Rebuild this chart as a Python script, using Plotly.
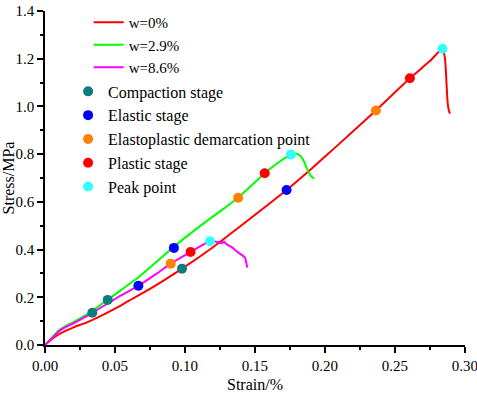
import plotly.graph_objects as go

# Stress-strain curves (strain in %, stress in MPa)
strain_w0 = [0, 0.005, 0.01, 0.015, 0.02, 0.03, 0.04, 0.05, 0.06, 0.075, 0.0979, 0.12, 0.14,
             0.1726, 0.19, 0.21, 0.2364, 0.2607, 0.275, 0.284, 0.2858, 0.2866, 0.2872, 0.2878,
             0.2885, 0.2893]
stress_w0 = [0, 0.025, 0.045, 0.06, 0.073, 0.095, 0.122, 0.152, 0.186, 0.235, 0.32, 0.41, 0.5,
             0.65, 0.737, 0.842, 0.983, 1.118, 1.19, 1.242, 1.20, 1.13, 1.06, 1.01, 0.985, 0.97]

strain_w29 = [0, 0.005, 0.01, 0.015, 0.02, 0.03, 0.0448, 0.055, 0.067, 0.08, 0.0921, 0.11,
              0.125, 0.138, 0.157, 0.168, 0.1757, 0.179, 0.182, 0.185, 0.1875, 0.19, 0.1924]
stress_w29 = [0, 0.032, 0.062, 0.08, 0.095, 0.128, 0.19, 0.233, 0.285, 0.35, 0.412, 0.495,
              0.56, 0.617, 0.72, 0.77, 0.798, 0.803, 0.795, 0.77, 0.735, 0.708, 0.697]

strain_w86 = [0, 0.005, 0.01, 0.015, 0.02, 0.0338, 0.045, 0.055, 0.0667, 0.08, 0.0898, 0.104,
              0.112, 0.1179, 0.1226, 0.1265, 0.128, 0.1295, 0.1335, 0.1369, 0.1405, 0.1429,
              0.1445]
stress_w86 = [0, 0.028, 0.058, 0.076, 0.09, 0.135, 0.175, 0.21, 0.248, 0.30, 0.341, 0.39,
              0.418, 0.435, 0.433, 0.427, 0.434, 0.423, 0.41, 0.393, 0.378, 0.366, 0.324]

# Stage points (order: w=0%, w=2.9%, w=8.6%)
compaction_x = [0.0979, 0.0448, 0.0338]
compaction_y = [0.320, 0.189, 0.135]
elastic_x = [0.1726, 0.0921, 0.0667]
elastic_y = [0.650, 0.407, 0.248]
elastoplastic_x = [0.2364, 0.138, 0.0898]
elastoplastic_y = [0.983, 0.617, 0.341]
plastic_x = [0.2607, 0.157, 0.104]
plastic_y = [1.118, 0.720, 0.390]
peak_x = [0.284, 0.1757, 0.1179]
peak_y = [1.242, 0.798, 0.435]

FONT = "Liberation Serif, Times New Roman, serif"

fig = go.Figure()

for name, xs, ys, col in [("w=0%", strain_w0, stress_w0, "#FF0000"),
                          ("w=2.9%", strain_w29, stress_w29, "#00FF00"),
                          ("w=8.6%", strain_w86, stress_w86, "#FF00FF")]:
    fig.add_trace(go.Scatter(x=xs, y=ys, mode="lines", name=name,
                             line=dict(color=col, width=2, shape="spline", smoothing=0.5),
                             legend="legend"))

for name, xs, ys, col in [("Compaction stage", compaction_x, compaction_y, "#0E7C7B"),
                          ("Elastic stage", elastic_x, elastic_y, "#0000FF"),
                          ("Elastoplastic demarcation point", elastoplastic_x, elastoplastic_y, "#FF8000"),
                          ("Plastic stage", plastic_x, plastic_y, "#FF0000"),
                          ("Peak point", peak_x, peak_y, "#33FFFF")]:
    fig.add_trace(go.Scatter(x=xs, y=ys, mode="markers", name=name,
                             marker=dict(color=col, size=10, line=dict(width=0)),
                             legend="legend2"))

axis_common = dict(showline=True, linecolor="black", linewidth=1.5, ticks="outside",
                   tickcolor="black", tickwidth=1.5, ticklen=6, showgrid=False, zeroline=False,
                   automargin=False, ticklabeloverflow="allow",
                   tickfont=dict(family=FONT, size=15, color="black"))

fig.update_layout(
    width=477, height=393,
    margin=dict(l=45, r=12, t=6, b=48),
    paper_bgcolor="white", plot_bgcolor="white",
    font=dict(family=FONT, color="black"),
    xaxis=dict(range=[0, 0.3001], dtick=0.05, tick0=0, tickformat=".2f",
               minor=dict(dtick=0.025, ticklen=3, tickcolor="black", ticks="outside"),
               title=dict(text="Strain/%", font=dict(family=FONT, size=16)),
               **axis_common),
    yaxis=dict(range=[0, 1.4], dtick=0.2, tick0=0, tickformat=".1f",
               minor=dict(dtick=0.1, ticklen=3, tickcolor="black", ticks="outside"),
               title=dict(text="Stress/MPa", font=dict(family=FONT, size=16)),
               **axis_common),
    legend=dict(x=0.104, y=1.015, xanchor="left", yanchor="top", bgcolor="rgba(0,0,0,0)",
                font=dict(family=FONT, size=15), tracegroupgap=0),
    legend2=dict(x=0.055, y=0.81, xanchor="left", yanchor="top", bgcolor="rgba(0,0,0,0)",
                 font=dict(family=FONT, size=16), tracegroupgap=0),
)

fig.write_html("out.html", config={"displayModeBar": False},
               post_script="document.body.style.margin='0px';")
